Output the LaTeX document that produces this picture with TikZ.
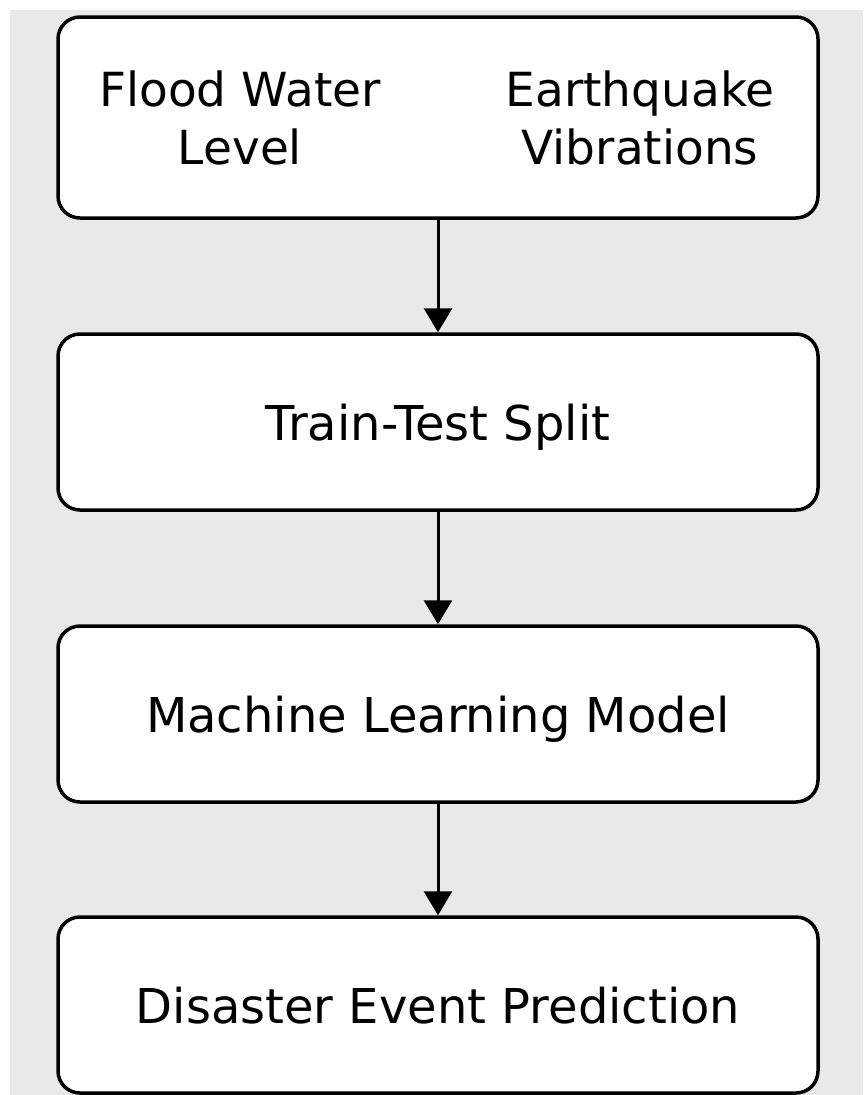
\documentclass[tikz,border=0pt]{standalone}
\usepackage{fontspec}
\setmainfont{DejaVu Sans}
\usetikzlibrary{arrows.meta}
\definecolor{bggray}{HTML}{E9E9E9}
\begin{document}
\begin{tikzpicture}[x=1pt,y=-1pt,
  stepbox/.style={draw=black, fill=white, line width=3.5pt, rounded corners=22pt,
    minimum width=760pt, inner sep=0pt, text depth=0pt, font=\fontsize{48}{58}\selectfont},
  lbl/.style={inner sep=0pt, align=center, font=\fontsize{47}{58}\selectfont},
  flow/.style={line width=3pt, -{Triangle[width=28pt,length=24pt]}}]
\useasboundingbox (0,0) rectangle (863,1095);
\fill[white] (0,0) rectangle (863,1095);
\fill[bggray] (10,10) rectangle (863,1095);
\node[stepbox, minimum height=201pt] (b1) at (438,117.5) {};
\node[lbl] (t1) at (240,118) {Flood Water\\Level};
\node[lbl] (t2) at (640,118) {Earthquake\\Vibrations};
\node[stepbox, minimum height=176pt] (b2) at (438,422) {Train-Test Split};
\node[stepbox, minimum height=176pt] (b3) at (438,714) {Machine Learning Model};
\node[stepbox, minimum height=176pt] (b4) at (438,1005) {Disaster Event Prediction};
\draw[flow] (b1.south) -- (b2.north);
\draw[flow] (b2.south) -- (b3.north);
\draw[flow] (b3.south) -- (b4.north);
\end{tikzpicture}
\end{document}
